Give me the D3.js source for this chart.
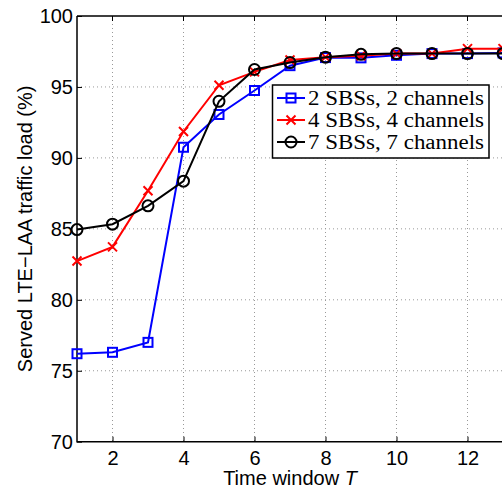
<!DOCTYPE html>
<html><head><meta charset="utf-8">
<script src="https://cdn.jsdelivr.net/npm/d3@7"></script>
<style>body{margin:0;background:#fff}svg{display:block}</style>
</head><body>
<svg id="c" width="502" height="488"></svg>
<script>
const xValues = [1,2,3,4,5,6,7,8,9,10,11,12,13];
const series2 = [76.2,76.3,77.0,90.75,93.06,94.75,96.5,97.07,97.05,97.23,97.35,97.35,97.4];
const series4 = [82.73,83.73,87.68,91.86,95.12,96.06,96.9,97.1,97.2,97.35,97.35,97.7,97.7];
const series7 = [84.95,85.33,86.62,88.36,93.99,96.23,96.72,97.1,97.3,97.35,97.35,97.35,97.35];
const seriesNames = ["2 SBSs, 2 channels","4 SBSs, 4 channels","7 SBSs, 7 channels"];
const xTicks = [2,4,6,8,10,12];
const yTicks = [70,75,80,85,90,95,100];

const svg = d3.select("#c");
const L=77, R=503, T=16, B=441.7;
const x = d3.scaleLinear().domain([1,13]).range([L,R]);
const y = d3.scaleLinear().domain([70,100]).range([B,T]);

// grid
const g = svg.append("g");
g.selectAll(".gx").data(xTicks).enter().append("line")
  .attr("x1",d=>x(d)).attr("x2",d=>x(d)).attr("y1",T).attr("y2",B)
  .attr("stroke","#999").attr("stroke-width",1).attr("stroke-dasharray","1,3");
g.selectAll(".gy").data(yTicks.filter(d=>d>70&&d<100)).enter().append("line")
  .attr("x1",L).attr("x2",R).attr("y1",d=>y(d)).attr("y2",d=>y(d))
  .attr("stroke","#999").attr("stroke-width",1).attr("stroke-dasharray","1,3");

// axes
const xAxis = d3.axisBottom(x).tickValues(xTicks).tickSize(-5).tickPadding(9).tickFormat(d3.format("d"));
const yAxis = d3.axisLeft(y).tickValues(yTicks).tickSize(-5).tickPadding(4).tickFormat(d3.format("d"));
const gx = svg.append("g").attr("transform",`translate(0,${B})`).call(xAxis);
const gy = svg.append("g").attr("transform",`translate(${L},0)`).call(yAxis);
[gx,gy].forEach(a=>{
  a.select(".domain").remove();
  a.selectAll("line").attr("stroke","#000");
  a.selectAll("text").attr("font-family","Liberation Sans, Arial, sans-serif").attr("font-size",20).attr("fill","#000");
});
// top ticks
svg.selectAll(".tt").data(xTicks).enter().append("line")
  .attr("x1",d=>x(d)).attr("x2",d=>x(d)).attr("y1",T).attr("y2",T+5).attr("stroke","#000");
// frame
svg.append("path").attr("d",`M${L},${T}H${R+2}M${L},${T}V${B}H${R+2}`)
  .attr("fill","none").attr("stroke","#000").attr("stroke-width",1.5);

// labels
svg.append("text").attr("x",x(7)).attr("y",485).attr("text-anchor","middle")
  .attr("font-family","Liberation Sans, Arial, sans-serif").attr("font-size",20)
  .html('Time window <tspan font-style="italic">T</tspan>');
svg.append("text").attr("transform",`translate(32,${(T+B)/2}) rotate(-90)`).attr("text-anchor","middle")
  .attr("font-family","Liberation Sans, Arial, sans-serif").attr("font-size",20)
  .text("Served LTE\u2212LAA traffic load (%)");

const data = [
  {name:seriesNames[0], vals:series2, color:"#0000ff", marker:"square"},
  {name:seriesNames[1], vals:series4, color:"#ff0000", marker:"x"},
  {name:seriesNames[2], vals:series7, color:"#000000", marker:"circle"}
];
const line = d3.line().x((d,i)=>x(xValues[i])).y(d=>y(d));

function drawMarker(sel, type, color){
  if(type==="square"){
    sel.append("rect").attr("x",-4.5).attr("y",-4.5).attr("width",9).attr("height",9)
      .attr("fill","none").attr("stroke",color).attr("stroke-width",2);
  } else if(type==="x"){
    sel.append("path").attr("d","M-4.5,-4.5L4.5,4.5M-4.5,4.5L4.5,-4.5")
      .attr("stroke",color).attr("stroke-width",2).attr("fill","none");
  } else {
    sel.append("circle").attr("r",5.5).attr("fill","none").attr("stroke",color).attr("stroke-width",2);
  }
}

data.forEach(s=>{
  svg.append("path").datum(s.vals).attr("d",line).attr("fill","none")
    .attr("stroke",s.color).attr("stroke-width",2);
  s.vals.forEach((v,i)=>{
    const m = svg.append("g").attr("transform",`translate(${x(xValues[i])},${y(v)})`);
    drawMarker(m,s.marker,s.color);
  });
});

// legend
const lg = svg.append("g");
lg.append("rect").attr("x",272.5).attr("y",85).attr("width",216.5).attr("height",73)
  .attr("fill","#fff").attr("stroke","#000").attr("stroke-width",1.5);
data.forEach((s,i)=>{
  const cy = 98 + i*22;
  lg.append("line").attr("x1",277).attr("x2",305).attr("y1",cy).attr("y2",cy)
    .attr("stroke",s.color).attr("stroke-width",2);
  const m = lg.append("g").attr("transform",`translate(291,${cy})`);
  drawMarker(m,s.marker,s.color);
  lg.append("text").attr("x",308).attr("y",cy+7).attr("font-family","Liberation Serif, Times New Roman, serif")
    .attr("font-size",20).attr("fill","#000")
    .attr("textLength",176).attr("lengthAdjust","spacingAndGlyphs").text(s.name);
});
</script>
</body></html>
